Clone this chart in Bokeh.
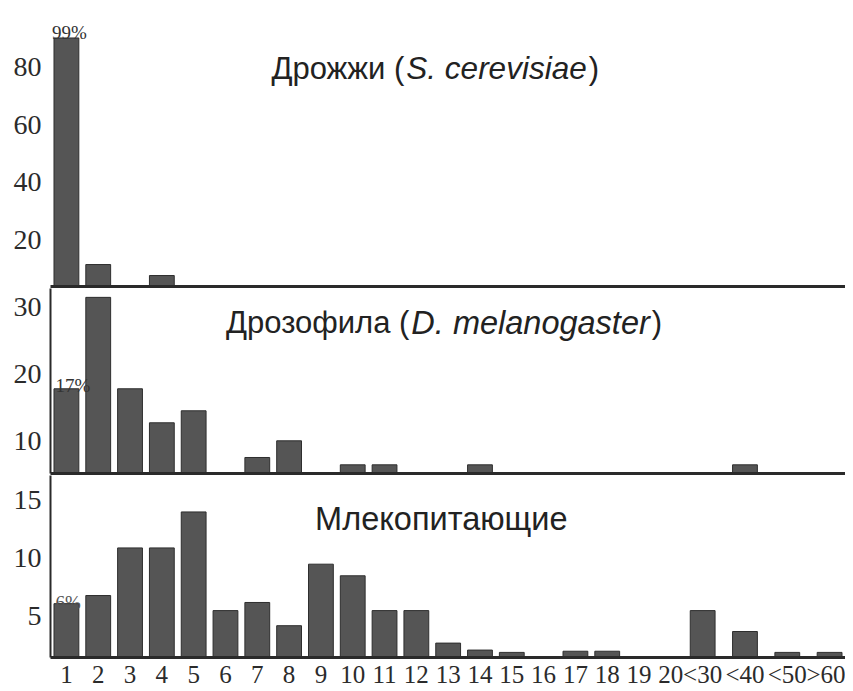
from bokeh.plotting import figure
from bokeh.layouts import column
from bokeh.models import Range1d, FixedTicker, FactorRange
from bokeh.core.properties import value
from bokeh.embed import file_html
from bokeh.resources import INLINE

# ---------------- data ----------------
categories = ["1", "2", "3", "4", "5", "6", "7", "8", "9", "10",
              "11", "12", "13", "14", "15", "16", "17", "18", "19", "20",
              "<30", "<40", "<50", ">60"]

yeast = [90, 11.6, 0, 7.8, 0, 0, 0, 0, 0, 0,
         0, 0, 0, 0, 0, 0, 0, 0, 0, 0,
         0, 0, 0, 0]

drosophila = [17.8, 31.5, 17.8, 12.7, 14.5, 0, 7.5, 10.0, 0, 6.4,
              6.4, 0, 0, 6.4, 0, 0, 0, 0, 0, 0,
              0, 6.4, 0, 0]

mammals = [6.1, 6.8, 10.9, 10.9, 14.0, 5.5, 6.2, 4.2, 9.5, 8.5,
           5.5, 5.5, 2.7, 2.1, 1.9, 0, 2.0, 2.0, 0, 0,
           5.5, 3.7, 1.9, 1.9]

yeast_ticks = [20, 40, 60, 80]
drosophila_ticks = [10, 20, 30]
mammal_ticks = [5, 10, 15]

titles = [("Дрожжи (", "S. cerevisiae", ")"),
          ("Дрозофила (", "D. melanogaster", ")"),
          ("Млекопитающие", "", "")]
pct_labels = ["99%", "17%", "6%"]

# ---------------- style ----------------
BAR = "#555555"
EDGE = "#2e2e2e"
AX = "#2a2a2a"
SERIF = "Liberation Serif"
SANS = "Liberation Sans"
BAR_W = 0.78
TITLE_FS = 31

# the wide bins after "<30" are spaced a little further apart (hidden groups)
factors = [("", c) for c in categories[:21]] + [(c, c) for c in categories[21:]]
xr = FactorRange(factors=factors, group_padding=0.33, range_padding=0)
title_anchor = factors[11]


def panel(vals, y0, y1, ticks, height, border_top, border_bottom, show_x, y_line=True):
    p = figure(width=845, height=height, x_range=xr, y_range=Range1d(y0, y1),
               output_backend="svg", toolbar_location=None,
               min_border_left=50, min_border_right=0, min_border_top=border_top,
               min_border_bottom=border_bottom)
    p.vbar(x=factors, top=vals, bottom=0, width=BAR_W, fill_color=BAR,
           line_color=EDGE, line_width=1)
    p.xgrid.visible = False
    p.ygrid.visible = False
    p.outline_line_color = None
    p.background_fill_color = "white"

    ya = p.yaxis[0]
    ya.ticker = FixedTicker(ticks=ticks)
    ya.major_tick_out = 0
    ya.major_tick_in = 0
    ya.minor_tick_out = 0
    ya.minor_tick_in = 0
    ya.major_label_standoff = 9
    ya.major_label_text_font = SERIF
    ya.major_label_text_font_size = "28px"
    ya.major_label_text_color = "#2b2b2b"
    ya.axis_line_width = 2
    ya.axis_line_color = AX if y_line else None

    xa = p.xaxis[0]
    xa.axis_line_width = 3
    xa.axis_line_color = AX
    xa.major_tick_out = 0
    xa.major_tick_in = 0
    xa.minor_tick_out = 0
    xa.minor_tick_in = 0
    xa.separator_line_color = None
    xa.group_text_font_size = "0px"
    xa.group_text_color = None
    if show_x:
        xa.major_label_standoff = 3
        xa.major_label_text_font = SERIF
        xa.major_label_text_font_size = "25px"
        xa.major_label_text_color = "#2b2b2b"
    else:
        xa.major_label_standoff = 0
        xa.major_label_text_font_size = "0px"
        xa.major_label_text_color = None
    return p


def add_title(p, parts, dx, y, fs, ital_fs, ital_em):
    left, ital, right = parts
    common = dict(text_baseline="alphabetic", text_font=value(SANS), text_color="#222222")
    if ital:
        p.text(x=[title_anchor], y=[y], text=[left], x_offset=dx, text_align="right",
               text_font_size=f"{fs}px", **common)
        p.text(x=[title_anchor], y=[y], text=[ital], x_offset=dx + 2, text_align="left",
               text_font_style="italic", text_font_size=f"{ital_fs}px", **common)
        p.text(x=[title_anchor], y=[y], text=[right], x_offset=dx + ital_em * ital_fs + 4,
               text_align="left", text_font_size=f"{fs}px", **common)
    else:
        p.text(x=[title_anchor], y=[y], text=[left], x_offset=dx, text_align="center",
               text_font_size=f"{fs}px", **common)


p1 = panel(yeast, 4.0, 100.2, yeast_ticks, 288, 8, 2, False, y_line=False)
p2 = panel(drosophila, 5.1, 32.83, drosophila_ticks, 187, 0, 2, False)
p3 = panel(mammals, 1.46, 17.14, mammal_ticks, 215, 0, 32, True)

add_title(p1, titles[0], -12, 79.5, TITLE_FS, 31.5, 5.724)
add_title(p2, titles[1], -7, 27.7, TITLE_FS, 32.5, 7.336)
add_title(p3, titles[2], 25, 13.4, 32.5, 0, 0)

pct_style = dict(text_baseline="alphabetic", text_font=value(SERIF), text_font_size="19px")
p1.text(x=[factors[0]], y=[yeast[0]], text=[pct_labels[0]], x_offset=3, y_offset=-5,
        text_align="center", text_color="#333333", **pct_style)
p2.text(x=[factors[0]], y=[drosophila[0]], text=[pct_labels[1]], x_offset=-11, y_offset=-3,
        text_align="left", text_color="#333333", **pct_style)
p3.text(x=[factors[0]], y=[mammals[0]], text=[pct_labels[2]], x_offset=-11, y_offset=-1,
        text_align="left", text_color="#555555", **pct_style)

layout = column(p1, p2, p3, spacing=0)

open("out.html", "w").write(file_html(layout, INLINE))
